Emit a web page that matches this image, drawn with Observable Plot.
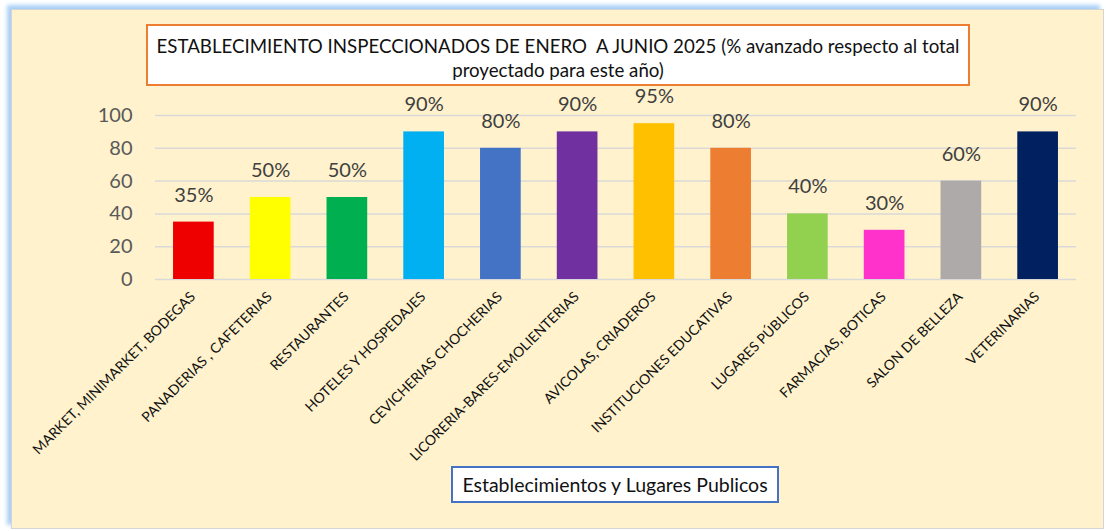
<!DOCTYPE html>
<html>
<head>
<meta charset="utf-8">
<script src="https://cdn.jsdelivr.net/npm/d3@7"></script>
<script src="https://cdn.jsdelivr.net/npm/@observablehq/plot@0.6"></script>
<style>
  html, body { margin: 0; padding: 0; background: #ffffff; }
  #wrap { position: relative; width: 1106px; height: 531px; overflow: hidden; font-family: Lato, "Open Sans", sans-serif; }
  #frame { position: absolute; left: 11px; top: 9px; width: 1091px; height: 518px; background: #FFF2CC;
           border: 1px solid #d4d4d4; box-shadow: -4px -4px 4px #a9d0f7; }
  #chart { position: absolute; left: 0; top: 0; }
  #title { position: absolute; left: 146px; top: 24px; width: 820px; height: 50px; background: #fff;
           border: 2.5px solid #ED7D31; text-align: center; font-size: 18.7px; line-height: 24px; color: #111;
           padding-top: 8px; box-sizing: content-box; }
  #xtitle { position: absolute; left: 451px; top: 466px; width: 324px; height: 33px; background: #fff;
            border: 2px solid #4472C4; text-align: center; font-size: 19.5px; line-height: 33px; color: #111; }
</style>
</head>
<body>
<div id="wrap">
  <div id="frame"></div>
  <div id="chart"></div>
  <div id="title">ESTABLECIMIENTO INSPECCIONADOS DE ENERO&nbsp; A JUNIO 2025 (% avanzado respecto al total<br>proyectado para este año)</div>
  <div id="xtitle">Establecimientos y Lugares Publicos</div>
</div>
<script>
const categories = [
  "MARKET, MINIMARKET, BODEGAS",
  "PANADERIAS , CAFETERIAS",
  "RESTAURANTES",
  "HOTELES Y HOSPEDAJES",
  "CEVICHERIAS CHOCHERIAS",
  "LICORERIA-BARES-EMOLIENTERIAS",
  "AVICOLAS, CRIADEROS",
  "INSTITUCIONES EDUCATIVAS",
  "LUGARES PÚBLICOS",
  "FARMACIAS, BOTICAS",
  "SALON DE BELLEZA",
  "VETERINARIAS"
];
const values = [35, 50, 50, 90, 80, 90, 95, 80, 40, 30, 60, 90];
const colors = ["#EE0000", "#FFFF00", "#00B050", "#00B0F0", "#4472C4", "#7030A0",
                "#FFC000", "#ED7D31", "#92D050", "#FF33CC", "#AEAAAA", "#002060"];
const yTicks = [0, 20, 40, 60, 80, 100];

const data = categories.map((c, i) => ({cat: c, value: values[i], color: colors[i]}));

const chart = Plot.plot({
  width: 1106,
  height: 531,
  marginLeft: 155,
  marginRight: 30,
  marginTop: 115,
  marginBottom: 252,
  style: {background: "transparent", overflow: "visible", fontFamily: "Lato, 'Open Sans', sans-serif"},
  x: {domain: categories, paddingInner: 0.47, paddingOuter: 0.235, round: false, axis: null},
  y: {domain: [0, 100], axis: null},
  marks: [
    Plot.ruleY(yTicks, {y: d => d, stroke: "#d9d9d9", strokeWidth: 1.5}),
    Plot.barY(data, {x: "cat", y: "value", fill: "color"}),
    Plot.text(yTicks, {y: d => d, text: d => String(d), frameAnchor: "left", textAnchor: "end", dx: -23,
      fontSize: 20, fill: "#595959"}),
    Plot.text(data, {x: "cat", y: "value", text: d => d.value + "%", lineAnchor: "middle", dy: -27,
      fontSize: 20, fill: "#404040"}),
    Plot.text(data, {x: "cat", text: "cat", frameAnchor: "bottom", rotate: -45, textAnchor: "end",
      lineAnchor: "middle", dx: -1, dy: 15, fontSize: 14, fill: "#111"})
  ]
});
document.getElementById("chart").appendChild(chart);
</script>
</body>
</html>
